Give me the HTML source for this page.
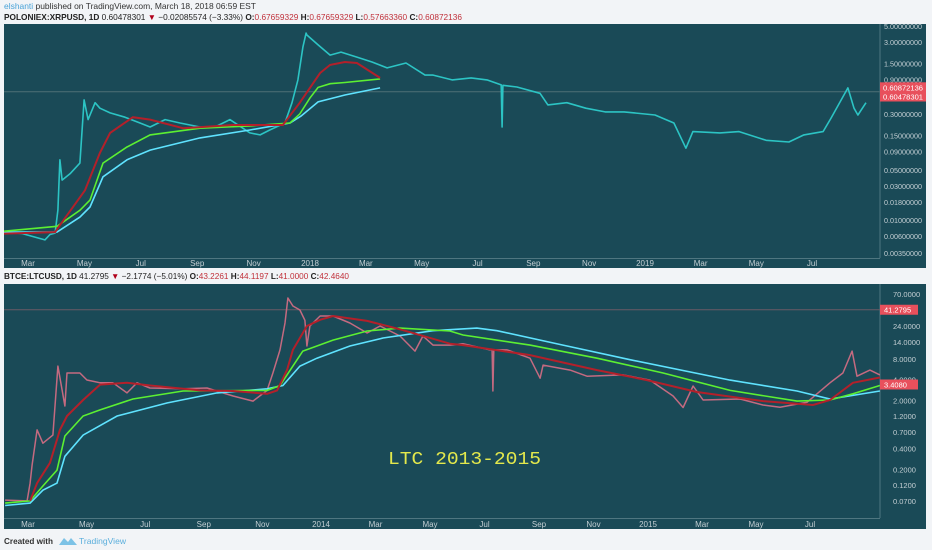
<!DOCTYPE html>
<html><head><meta charset="utf-8">
<style>
html,body{margin:0;padding:0;background:#f2f4f7;}
svg{display:block;font-family:"Liberation Sans",sans-serif;}
</style></head>
<body>
<svg id="chart" width="932" height="550" viewBox="0 0 932 550">
  <rect x="0" y="0" width="932" height="550" fill="#f2f4f7"/>
  <text x="4" y="9" font-size="8.5" fill="#333" textLength="252" lengthAdjust="spacingAndGlyphs"><tspan fill="#4aa3d8">elshanti</tspan> published on TradingView.com, March 18, 2018 06:59 EST</text>
  <text x="4" y="20" font-size="8.3" fill="#222" textLength="458" lengthAdjust="spacingAndGlyphs"><tspan font-weight="bold">POLONIEX:XRPUSD, 1D</tspan> 0.60478301 <tspan fill="#b0001a">▼</tspan> −0.02085574 (−3.33%) <tspan font-weight="bold">O:</tspan><tspan fill="#c0303a">0.67659329</tspan> <tspan font-weight="bold">H:</tspan><tspan fill="#c0303a">0.67659329</tspan> <tspan font-weight="bold">L:</tspan><tspan fill="#c0303a">0.57663360</tspan> <tspan font-weight="bold">C:</tspan><tspan fill="#c0303a">0.60872136</tspan></text>
  <text x="4" y="279" font-size="8.3" fill="#222" textLength="345" lengthAdjust="spacingAndGlyphs"><tspan font-weight="bold">BTCE:LTCUSD, 1D</tspan> 41.2795 <tspan fill="#b0001a">▼</tspan> −2.1774 (−5.01%) <tspan font-weight="bold">O:</tspan><tspan fill="#c0303a">43.2261</tspan> <tspan font-weight="bold">H:</tspan><tspan fill="#c0303a">44.1197</tspan> <tspan font-weight="bold">L:</tspan><tspan fill="#c0303a">41.0000</tspan> <tspan font-weight="bold">C:</tspan><tspan fill="#c0303a">42.4640</tspan></text>

  <rect x="4" y="24" width="922" height="244" fill="#1a4a57"/>
  <rect x="4" y="284" width="922" height="245" fill="#1a4a57"/>
  <line x1="880" y1="24" x2="880" y2="258" stroke="#4f7680" stroke-width="1"/>
  <line x1="4" y1="258.5" x2="880" y2="258.5" stroke="#4f7680" stroke-width="1"/>
  <line x1="880" y1="284" x2="880" y2="518" stroke="#4f7680" stroke-width="1"/>
  <line x1="4" y1="518.5" x2="880" y2="518.5" stroke="#4f7680" stroke-width="1"/>
  <defs>
    <clipPath id="clipTop"><rect x="4" y="24" width="876" height="234"/></clipPath>
    <clipPath id="clipBot"><rect x="4" y="284" width="876" height="234"/></clipPath>
  </defs>
  <g id="topPlot" clip-path="url(#clipTop)"></g>
  <g id="botPlot" clip-path="url(#clipBot)"></g>
  <g id="axes"></g>
  <text x="388" y="464" font-family="'Liberation Mono',monospace" font-size="18" fill="#e3e84c" textLength="153" lengthAdjust="spacingAndGlyphs">LTC 2013-2015</text>

  <text x="4" y="544" font-size="8.5" font-weight="bold" fill="#333" textLength="49" lengthAdjust="spacingAndGlyphs">Created with</text>
  <g>
    <path d="M59 545 L64 538 L68 542 L71 538 L77 545 Z" fill="#7cc2e6"/>
    <text x="79" y="544" font-size="8.5" fill="#5aaedc" textLength="47" lengthAdjust="spacingAndGlyphs">TradingView</text>
  </g>
</svg>
<script>
// ---------- XRP data (months since Jan 2017) ----------
const xrpMonths = [1.15,1.8,2.60,2.78,2.96,3.06,3.13,3.21,3.49,3.84,3.99,4.13,4.38,4.55,4.91,5.44,5.97,6.33,6.86,7.39,8.10,8.63,9.16,9.87,10.23,10.58,11.11,11.36,11.57,11.75,11.86,11.89,12.29,12.72,13.11,13.68,14.22,14.76,15.44,16.12,16.41,17.09,17.77,18.34,18.85,18.88,18.91,19.41,20.24,20.52,21.20,21.88,22.57,23.25,24.36,25.04,25.47,25.72,26.69,27.38,28.35,29.17,29.71,30.40,30.68,31.29,31.51,31.65,31.94];
const xrpPrice = [0.0068,0.0065,0.0053,0.0063,0.0066,0.0138,0.069,0.036,0.044,0.062,0.47,0.25,0.43,0.36,0.31,0.27,0.224,0.197,0.25,0.224,0.197,0.197,0.25,0.163,0.153,0.18,0.224,0.43,0.89,2.55,3.99,3.75,2.73,1.97,2.17,1.85,1.58,1.31,1.53,1.04,1.04,0.89,0.95,0.89,0.76,0.197,0.75,0.71,0.58,0.40,0.43,0.36,0.32,0.32,0.29,0.224,0.10,0.17,0.163,0.17,0.129,0.122,0.153,0.17,0.26,0.69,0.36,0.29,0.43];
const xrpRedM = [1.15,2.96,3.13,4.02,4.55,4.91,5.72,6.33,7.50,9.27,11.04,11.64,12.36,12.72,13.25,13.68,14.51];
const xrpRedV = [0.0065,0.0068,0.0085,0.026,0.086,0.163,0.27,0.25,0.19,0.21,0.21,0.43,1.11,1.44,1.58,1.53,0.95];
const xrpGreenM = [1.15,3.03,3.84,4.20,4.66,5.51,6.33,8.10,9.87,11.29,11.64,12.0,12.29,12.72,13.25,14.51];
const xrpGreenV = [0.007,0.0082,0.0137,0.019,0.062,0.104,0.153,0.19,0.204,0.224,0.3,0.5,0.7,0.79,0.82,0.92];
const xrpCyanM = [1.15,3.03,3.84,4.20,4.66,5.51,6.33,8.10,9.87,11.29,11.68,12.29,13.25,14.51];
const xrpCyanV = [0.0068,0.0068,0.011,0.0152,0.04,0.069,0.094,0.139,0.179,0.224,0.28,0.44,0.55,0.69];
const xrpTicks = [5,3,1.5,0.9,0.3,0.15,0.09,0.05,0.03,0.018,0.01,0.006,0.0035];
const xrpTimeLabels = ["Mar","May","Jul","Sep","Nov","2018","Mar","May","Jul","Sep","Nov","2019","Mar","May","Jul"];
const xrpTimeMonths = [2,4,6,8,10,12,14,16,18,20,22,24,26,28,30];
const xrpLastPrices = [0.60872136,0.60478301];

// ---------- LTC data (months since Jan 2013) ----------
const ltcMonths = [1.22,1.97,2.07,2.14,2.31,2.51,2.85,3.02,3.26,3.33,3.77,4.01,4.46,4.90,5.38,5.72,6.16,7.29,8.11,9.0,9.68,10.16,10.36,10.60,10.77,10.87,11.04,11.28,11.45,11.52,11.62,11.97,12.44,13.06,13.69,14.17,14.90,15.45,15.74,16.11,16.73,17.21,18.20,18.28,18.31,18.34,18.83,19.67,20.04,20.15,21.14,21.76,23.08,24.07,24.93,25.30,25.67,26.04,27.41,28.26,28.89,29.89,30.74,31.22,31.56,31.74,32.22,32.59];
const ltcPrice = [0.072,0.07,0.127,0.232,0.75,0.48,0.63,6.3,1.66,5.0,5.0,3.96,3.6,3.6,2.57,3.6,3.03,2.95,3.03,2.32,1.96,2.8,5.0,10.8,26.5,61,46.8,41,29,12.3,24,33.5,33.5,26.5,19,24,17.2,10.4,17.2,12.7,12.7,13.3,10.8,10.8,2.74,10.8,10.8,8.2,4.2,6.5,5.5,4.5,4.7,3.95,2.32,1.58,3.24,2.03,2.1,1.72,1.6,1.88,3.6,5.0,10.4,4.5,5.5,4.7];
const ltcRedM = [2.07,2.31,2.75,3.09,3.33,3.88,4.46,5.38,6.16,7.87,9.0,10.16,10.50,10.84,11.04,11.52,11.97,12.44,13.69,14.90,16.73,17.21,19.67,22.13,23.96,25.81,28.26,30.11,30.74,31.59,32.59];
const ltcRedV = [0.07,0.127,0.25,0.75,1.19,2.03,3.4,3.6,3.3,2.8,2.74,2.5,2.8,5.5,10.8,24,29.5,33.5,28.5,21.5,13.3,12.7,9.1,5.5,3.95,2.65,1.96,1.72,2.03,3.6,4.3];
const ltcGreenM = [1.22,2.07,2.51,2.99,3.26,3.88,4.46,5.58,7.29,10.16,10.60,11.04,11.38,12.44,13.69,14.90,16.73,17.21,19.67,22.13,24.56,27.04,29.52,30.74,31.59,32.59];
const ltcGreenV = [0.065,0.07,0.115,0.196,0.61,1.19,1.46,2.1,2.74,2.8,3.3,6.3,10.4,15,20.3,22.4,20.3,17.8,12.7,8.2,5.0,2.8,1.96,2.03,2.5,3.3];
const ltcCyanM = [1.22,2.07,2.51,2.99,3.26,3.88,5.04,6.74,8.45,10.16,10.70,11.28,11.86,13.06,14.28,16.11,17.72,18.46,20.88,23.34,27.04,29.52,30.74,32.59];
const ltcCyanV = [0.06,0.065,0.10,0.127,0.31,0.63,1.19,1.84,2.57,2.95,3.3,6.3,8.2,12.3,16.1,20.5,22.4,20.5,12.7,7.8,3.95,2.74,2.1,2.74];
const ltcTicks = [70,24,14,8,4,2,1.2,0.7,0.4,0.2,0.12,0.07];
const ltcTimeLabels = ["Mar","May","Jul","Sep","Nov","2014","Mar","May","Jul","Sep","Nov","2015","Mar","May","Jul"];
const ltcTimeMonths = [2,4,6,8,10,12,14,16,18,20,22,24,26,28,30];
const ltcLastPrices = [41.2795,3.4080];

// ---------- scales ----------
function piecewise(anchors, m){
  for (let i=0;i<anchors.length-1;i++){
    const a=anchors[i], b=anchors[i+1];
    if (m<=b[0] || i===anchors.length-2){
      return a[1] + (m-a[0])*(b[1]-a[1])/(b[0]-a[0]);
    }
  }
}
const topAnchors=[[2,28],[12,310],[24,645],[30,812]];
const botAnchors=[[2,28],[12,321],[24,648],[30,810]];
function topX(m){return piecewise(topAnchors,m);}
function botX(m){return piecewise(botAnchors,m);}
function topY(v){return 42 - (Math.log10(v)-Math.log10(3))*71.9;}
function botY(v){return 326 - (Math.log10(v)-Math.log10(24))*69;}

const NS="http://www.w3.org/2000/svg";
function mk(tag, attrs, parent){
  const el=document.createElementNS(NS,tag);
  for (const k in attrs) el.setAttribute(k, attrs[k]);
  parent.appendChild(el);
  return el;
}
function pathD(ms, vs, fx, fy){
  return ms.map((m,i)=>(i?"L":"M")+fx(m).toFixed(1)+" "+fy(vs[i]).toFixed(1)).join(" ");
}

const topPlot=document.getElementById('topPlot');
const botPlot=document.getElementById('botPlot');
const axes=document.getElementById('axes');

const tl=mk('line',{x1:4,x2:880,y1:topY(xrpLastPrices[0]),y2:topY(xrpLastPrices[0]),stroke:'#4e6f76','stroke-width':1},topPlot);


const bl=mk('line',{x1:4,x2:880,y1:botY(ltcLastPrices[0]),y2:botY(ltcLastPrices[0]),stroke:'#6a5a66','stroke-width':1},botPlot);



const xp=mk('path',{d:pathD(xrpMonths,xrpPrice,topX,topY),fill:'none',stroke:'#2cc4c4','stroke-width':1.6,'stroke-linejoin':'round'},topPlot);


const xc=mk('path',{d:pathD(xrpCyanM,xrpCyanV,topX,topY),fill:'none',stroke:'#5fe3ff','stroke-width':1.6},topPlot);


const xg=mk('path',{d:pathD(xrpGreenM,xrpGreenV,topX,topY),fill:'none',stroke:'#5cf032','stroke-width':1.6},topPlot);


const xr=mk('path',{d:pathD(xrpRedM,xrpRedV,topX,topY),fill:'none',stroke:'#b3202a','stroke-width':2},topPlot);



const lp=mk('path',{d:pathD(ltcMonths,ltcPrice,botX,botY),fill:'none',stroke:'#c46a80','stroke-width':1.5,'stroke-linejoin':'round'},botPlot);


const lc=mk('path',{d:pathD(ltcCyanM,ltcCyanV,botX,botY),fill:'none',stroke:'#5fe3ff','stroke-width':1.6},botPlot);


const lg=mk('path',{d:pathD(ltcGreenM,ltcGreenV,botX,botY),fill:'none',stroke:'#5cf032','stroke-width':1.6},botPlot);


const lr=mk('path',{d:pathD(ltcRedM,ltcRedV,botX,botY),fill:'none',stroke:'#b3202a','stroke-width':2},botPlot);



xrpTicks.forEach(v=>{
  const y=topY(v);
  if (y<24) return;
  const t=mk('text',{x:884,y:y+3,'font-size':7.5,fill:'#c3ced3',textLength:38,lengthAdjust:'spacingAndGlyphs'},axes);
  t.textContent=v.toFixed(8);
  
  
});
ltcTicks.forEach(v=>{
  const y=botY(v);
  const t=mk('text',{x:893,y:y+3,'font-size':7.5,fill:'#c3ced3'},axes);
  t.textContent=v.toFixed(4);
  
  
});
xrpLastPrices.forEach((v,i)=>{
  const y=topY(v)+(i?4.5:-4.5);
  const r=mk('rect',{x:880,y:y-5,width:46,height:10,fill:'#e8505c'},axes);
  
  
  const t=mk('text',{x:883,y:y+3,'font-size':7.5,fill:'#ffffff',textLength:40,lengthAdjust:'spacingAndGlyphs'},axes);
  t.textContent=v.toFixed(8);
  
  
});
ltcLastPrices.forEach((v,i)=>{
  const y=botY(v);
  const r=mk('rect',{x:880,y:y-5,width:38,height:10,fill:'#e8505c'},axes);
  
  
  const t=mk('text',{x:884,y:y+3,'font-size':7.5,fill:'#ffffff'},axes);
  t.textContent=v.toFixed(4);
  
  
});
xrpTimeMonths.forEach((m,i)=>{
  const t=mk('text',{x:topX(m),y:266,'font-size':8,fill:'#c3ced3','text-anchor':'middle'},axes);
  t.textContent=xrpTimeLabels[i];
  
  
});
ltcTimeMonths.forEach((m,i)=>{
  const t=mk('text',{x:botX(m),y:527,'font-size':8,fill:'#c3ced3','text-anchor':'middle'},axes);
  t.textContent=ltcTimeLabels[i];
  
  
});
</script>
</body></html>
